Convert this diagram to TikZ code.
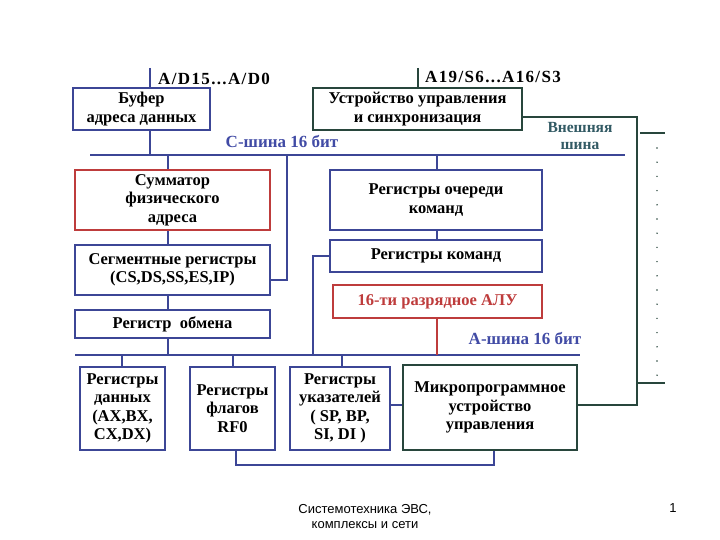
\documentclass[tikz,border=0pt]{standalone}
\usepackage{fontspec}
\setmainfont{Liberation Serif}
\newfontfamily\footfont{Liberation Sans}
\newfontfamily\widefont[LetterSpace=8]{Liberation Serif}
\definecolor{bl}{RGB}{60,70,150}
\definecolor{rd}{RGB}{190,60,60}
\definecolor{gr}{RGB}{40,70,60}
\definecolor{lbl}{RGB}{65,75,165}
\definecolor{ext}{RGB}{50,90,100}
\begin{document}
\begin{tikzpicture}[x=1pt,y=-1pt,
  box/.style={draw=bl,line width=1.6pt,inner sep=0pt,font=\fontsize{16.5}{18.5}\selectfont\bfseries,align=center},
  bus/.style={draw=bl,line width=1.6pt},
  lab/.style={font=\fontsize{17}{19}\selectfont\bfseries,inner sep=0pt}]
\useasboundingbox (0,0) rectangle (720,540);
\def\bx#1#2#3#4#5#6{\node[box,#6,minimum width=#3-#1,minimum height=#4-#2] (#5) at ({(#1+#3)/2},{(#2+#4)/2})}
\bx{73}{88}{210}{130}{buf}{}{Буфер\\адреса данных};
\bx{313}{88}{522}{130}{usu}{draw=gr}{Устройство управления\\и синхронизация};
\bx{75}{170}{270}{230}{sum}{draw=rd}{Сумматор\\физического\\адреса};
\bx{75}{245}{270}{295}{seg}{}{Сегментные регистры\\(CS,DS,SS,ES,IP)};
\bx{75}{310}{270}{338}{obm}{}{Регистр~~обмена};
\bx{330}{170}{542}{230}{och}{}{Регистры очереди\\команд};
\bx{330}{240}{542}{272}{kom}{}{Регистры команд};
\bx{333}{285}{542}{318}{alu}{draw=rd,text=rd}{16-ти разрядное АЛУ};
\bx{80}{367}{165}{450}{dan}{}{Регистры\\данных\\(AX,BX,\\CX,DX)};
\bx{190}{367}{275}{450}{flg}{}{Регистры\\флагов\\RF0};
\bx{290}{367}{390}{450}{uk}{}{Регистры\\указателей\\( SP, BP,\\SI, DI )};
\bx{403}{365}{577}{450}{mic}{draw=gr}{Микропрограммное\\устройство\\управления};
% external address lines
\coordinate (ad) at (150,68); \coordinate (as) at (418,68);
\draw[bus] (ad) -- (ad|-buf.north);
\draw[draw=gr,line width=1.6pt] (as) -- (as|-usu.north);
\node[lab,anchor=west,font=\widefont\fontsize{17}{19}\selectfont\bfseries] (tad) at (158,79) {A/D15...A/D0};
\node[lab,anchor=west,font=\widefont\fontsize{17}{19}\selectfont\bfseries] (tas) at (425,77) {A19/S6...A16/S3};
% C bus
\coordinate (c1) at (90,155); \coordinate (c2) at (625,155);
\draw[bus] (c1) -- (c2);
\node[lab,text=lbl] (tc) at (282,141) {С-шина 16 бит};
\draw[bus] (buf.south-|150,0) -- (150,155);
\draw[bus] (168,155) -- (sum.north-|168,0);
\draw[bus] (sum.south-|168,0) -- (seg.north-|168,0);
\draw[bus] (seg.south-|168,0) -- (obm.north-|168,0);
\draw[bus] (obm.south-|168,0) -- (168,355);
\draw[bus] (287,155) -- (287,280) -- (seg.east|-0,280);
\draw[bus] (437,155) -- (och.north-|437,0);
\draw[bus] (och.south-|437,0) -- (kom.north-|437,0);
\draw[bus] (kom.west) -- (313,256) -- (313,355);
% A bus
\coordinate (a1) at (75,355); \coordinate (a2) at (580,355);
\draw[bus] (a1) -- (a2);
\node[lab,text=lbl] (ta) at (525,338) {А-шина 16 бит};
\draw[draw=rd,line width=1.2pt] (alu.south-|437,0) -- (437,355);
\draw[bus] (122,355) -- (dan.north-|122,0);
\draw[bus] (233,355) -- (flg.north-|233,0);
\draw[bus] (342,355) -- (uk.north-|342,0);
\draw[bus] (uk.east|-0,405) -- (mic.west|-0,405);
\draw[bus] (flg.south-|236,0) -- (236,465) -- (494,465) -- (mic.south-|494,0);
% external bus
\draw[draw=gr,line width=1.6pt] (usu.east|-0,117) -- (637,117) -- (637,405) -- (mic.east|-0,405);
\node[lab,text=ext,align=center,font=\fontsize{15.5}{17}\selectfont\bfseries] (tex) at (580,136) {Внешняя\\шина};
\draw[draw=gr,line width=1.2pt] (640,133) -- (665,133);
\draw[draw=gr,line width=1.2pt] (637,383) -- (665,383);
\foreach \i in {0,...,16} \fill[gr] (657,{148+\i*14.2}) circle (0.8);
% footer
\node[font=\footfont\fontsize{13}{15}\selectfont,align=center] (ft) at (365,517) {Системотехника ЭВС,\\комплексы и сети};
\node[font=\footfont\fontsize{13}{15}\selectfont] (pg) at (673,508) {1};
\end{tikzpicture}
\end{document}
